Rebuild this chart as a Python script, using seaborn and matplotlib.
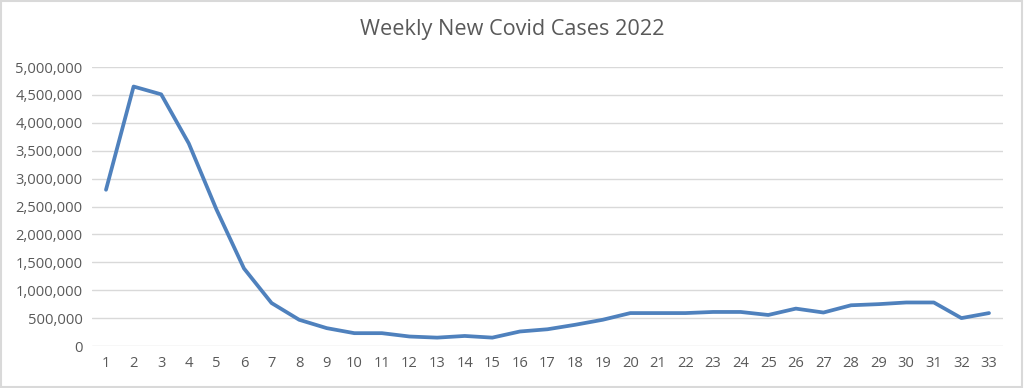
import matplotlib
matplotlib.use("Agg")
import matplotlib.pyplot as plt
import matplotlib.ticker as mticker
from matplotlib.patches import Rectangle
import seaborn as sns
import pandas as pd

weeks = list(range(1, 34))
cases = [2800000, 4650000, 4510000, 3630000, 2450000, 1390000, 770000, 470000,
         320000, 230000, 230000, 170000, 150000, 180000, 150000, 260000, 300000,
         380000, 470000, 590000, 590000, 590000, 610000, 610000, 556000, 670000,
         600000, 730000, 750000, 780000, 780000, 500000, 590000]
title = "Weekly New Covid Cases 2022"

df = pd.DataFrame({"week": weeks, "cases": cases})

sns.set_theme(style="white")
plt.rcParams['font.family'] = ['Open Sans', 'DejaVu Sans']

fig = plt.figure(figsize=(10.24, 3.88), dpi=100)
ax = fig.add_axes([92.2/1024, 42/388, (1002.8-92.2)/1024, 279/388])

sns.lineplot(data=df, x="week", y="cases", ax=ax, color="#4F81BD", linewidth=2.7)

ax.set_xlim(0.5, 33.5)
ax.set_ylim(0, 5000000)
ax.set_xticks(weeks)
ax.set_yticks(range(0, 5000001, 500000))
ax.yaxis.set_major_formatter(mticker.FuncFormatter(lambda v, p: f"{int(v):,}"))
ax.grid(axis="y", color="#d9d9d9", linewidth=1)
ax.set_axisbelow(True)
for s in ax.spines.values():
    s.set_visible(False)
ax.tick_params(axis="both", length=0, labelsize=10.6, colors="#595959")
ax.tick_params(axis="x", pad=7)
ax.tick_params(axis="y", pad=7)
ax.set_xlabel("")
ax.set_ylabel("")

fig.text(0.5, 1 - 30/388, title, ha="center", va="center", fontsize=15.6, color="#595959")
fig.patches.append(Rectangle((0.001, 0.002), 0.997, 0.995, transform=fig.transFigure,
                             fill=False, edgecolor="#d9d9d9", linewidth=1.5))

fig.savefig("out.png", dpi=100)
